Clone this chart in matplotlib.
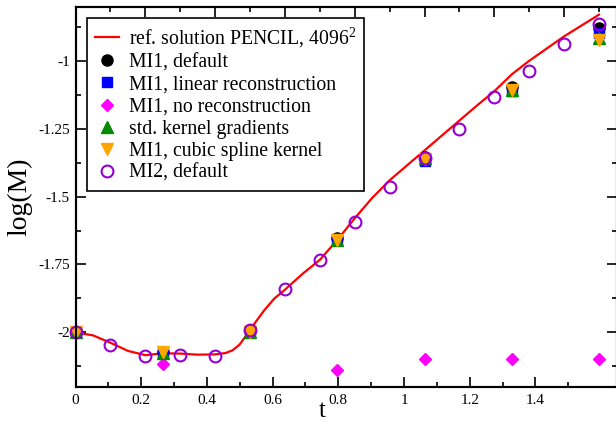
import matplotlib
matplotlib.use("Agg")
import matplotlib.pyplot as plt
import numpy as np

plt.rcParams['font.family'] = ['Liberation Serif', 'DejaVu Serif']
plt.rcParams['mathtext.fontset'] = 'custom'
plt.rcParams['mathtext.rm'] = 'Liberation Serif'
plt.rcParams['mathtext.it'] = 'Liberation Serif:italic'

# reference curve (PENCIL, 4096^2)
ref_t = [0, 0.05, 0.1, 0.15, 0.2, 0.25, 0.3, 0.35, 0.4, 0.43, 0.45, 0.47, 0.49, 0.5,
         0.52, 0.54, 0.57, 0.6, 0.65, 0.7, 0.75, 0.8, 0.85, 0.9, 0.95, 1.0, 1.05, 1.1,
         1.15, 1.2, 1.25, 1.3, 1.35, 1.4, 1.45, 1.5]
ref_y = [-2.0, -2.011, -2.038, -2.068, -2.084, -2.077, -2.078, -2.082, -2.081, -2.076,
         -2.066, -2.045, -2.01, -1.99, -1.955, -1.92, -1.875, -1.843, -1.785, -1.733,
         -1.66, -1.58, -1.505, -1.44, -1.385, -1.33, -1.275, -1.22, -1.165, -1.112,
         -1.05, -1.0, -0.955, -0.91, -0.87, -0.83]

t_mi1 = [0, 0.25, 0.5, 0.75, 1.0, 1.25, 1.5]
mi1_default = [-2.0, -2.072, -1.99, -1.652, -1.355, -1.098, -0.879]
mi1_linear = [-2.0, -2.075, -1.995, -1.657, -1.368, -1.11, -0.898]
mi1_norecon = [-2.0, -2.118, -1.995, -2.138, -2.097, -2.097, -2.097]
std_kernel = [-2.0, -2.076, -1.998, -1.66, -1.358, -1.108, -0.916]
cubic_spline = [-2.0, -2.072, -1.997, -1.661, -1.36, -1.107, -0.923]

t_mi2 = [0, 0.1, 0.2, 0.3, 0.4, 0.5, 0.6, 0.7, 0.8, 0.9, 1.0, 1.1, 1.2, 1.3, 1.4, 1.5]
mi2_default = [-2.0, -2.045, -2.088, -2.085, -2.086, -1.99, -1.841, -1.734, -1.595,
               -1.466, -1.359, -1.251, -1.135, -1.036, -0.937, -0.864]

xtick_labels = ['0', '0.2', '0.4', '0.6', '0.8', '1', '1.2', '1.4']
xtick_values = [0, 0.2, 0.4, 0.6, 0.8, 1.0, 1.2, 1.4]
ytick_labels = ['-2', '-1.75', '-1.5', '-1.25', '-1']
ytick_values = [-2.0, -1.75, -1.5, -1.25, -1.0]

W, H = 616, 426
fig = plt.figure(figsize=(W / 100, H / 100), dpi=100)
left, right, top, bottom = 75.5, 617.0, 6.5, 386.7
ax = fig.add_axes([left / W, (H - bottom) / H, (right - left) / W, (bottom - top) / H])

ax.plot(ref_t, ref_y, color='#ff0000', lw=1.6, label=r'ref. solution PENCIL, 4096$^2$', zorder=2)
kw = dict(ls='none', clip_on=False)
ax.plot(t_mi1, mi1_default, marker='o', ms=8, color='black', mec='black', label='MI1, default', zorder=3, **kw)
ax.plot(t_mi1, mi1_linear, marker='s', ms=6.5, color='#0000ff', mec='#0000ff', label='MI1, linear reconstruction', zorder=3, **kw)
ax.plot(t_mi1, mi1_norecon, marker='D', ms=6, color='#ff00ff', mec='#ff00ff', label='MI1, no reconstruction', zorder=3, **kw)
ax.plot(t_mi1, std_kernel, marker='^', ms=8, color='#008b00', mec='#008b00', label='std. kernel gradients', zorder=3, **kw)
ax.plot(t_mi1, cubic_spline, marker='v', ms=8, color='#ffa500', mec='#ffa500', label='MI1, cubic spline kernel', zorder=3, **kw)
ax.plot(t_mi2, mi2_default, marker='o', ms=8.5, mfc='none', mec='#9400d3', mew=1.5, label='MI2, default', zorder=4, **kw)

ax.set_xlim(0, (right - left) / 349.0)
ax.set_ylim(-2.2, -0.8)

# bottom axis labels (as drawn in the reference, scale differs from the data scale)
sc = 328.5 / 349.0
ax.set_xticks([v * sc for v in xtick_values])
ax.set_xticklabels(xtick_labels)
ax.set_xticks([(v + 0.1) * sc for v in xtick_values], minor=True)
ax.set_yticks(ytick_values)
ax.set_yticklabels(ytick_labels)
ax.set_yticks([v + 0.125 for v in [-2.25] + ytick_values], minor=True)

ax.tick_params(which='both', direction='in', top=False, right=True, labelsize=11, width=1.2)
ax.tick_params(which='major', length=7)
ax.tick_params(which='minor', length=3.5)
ax.tick_params(axis='x', pad=5)
ax.tick_params(axis='y', pad=4)

ax2 = ax.twiny()
ax2.set_xlim(ax.get_xlim())
ax2.set_xticks([0.2 * i for i in range(8)])
ax2.set_xticks([0.1 + 0.2 * i for i in range(8)], minor=True)
ax2.tick_params(which='both', direction='in', labeltop=False, width=1.2)
ax2.tick_params(which='major', length=7)
ax2.tick_params(which='minor', length=3.5)

for a in (ax, ax2):
    for s in a.spines.values():
        s.set_linewidth(1.5)

ax.set_xlabel('t', fontsize=18)
ax.xaxis.label.set_va('baseline')
ax.xaxis.set_label_coords((322 - left) / (right - left), -(417 - bottom) / (bottom - top))
ax.set_ylabel('log(M)', fontsize=20, labelpad=4)

leg = ax.legend(loc='upper left', bbox_to_anchor=((87 - left) / (right - left), (bottom - 18) / (bottom - top)),
                borderaxespad=0, fontsize=14.2, frameon=True, fancybox=False, edgecolor='black',
                handlelength=1.2, handletextpad=0.55, borderpad=0.4, labelspacing=0.16,
                numpoints=1, framealpha=1)
leg.get_frame().set_linewidth(1.2)

fig.savefig('out.png', dpi=100)
